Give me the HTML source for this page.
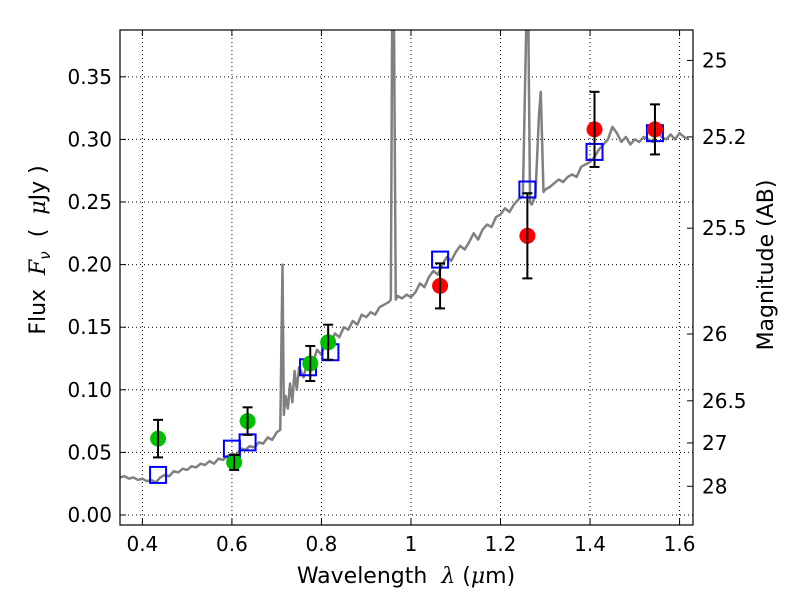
<!DOCTYPE html>
<html><head><meta charset="utf-8"><style>
body{margin:0;background:#fff;}
svg{display:block;font-family:"DejaVu Sans","Liberation Sans",sans-serif;}
text{white-space:pre;}
</style></head><body>
<svg id="chart" width="800" height="600" xmlns="http://www.w3.org/2000/svg"></svg>
<script>
const specX=[0.35,0.36,0.37,0.38,0.39,0.40,0.41,0.42,0.43,0.44,0.45,0.46,0.47,0.48,0.49,0.50,0.51,0.52,0.53,0.54,0.55,0.56,0.57,0.58,0.59,0.60,0.61,0.62,0.63,0.64,0.65,0.66,0.67,0.68,0.69,0.70,0.708,0.713,0.716,0.72,0.725,0.73,0.735,0.74,0.745,0.75,0.76,0.77,0.78,0.79,0.80,0.81,0.82,0.83,0.84,0.85,0.86,0.87,0.88,0.89,0.90,0.91,0.92,0.93,0.94,0.95,0.955,0.958,0.962,0.966,0.97,0.98,0.99,1.00,1.01,1.02,1.03,1.04,1.05,1.06,1.07,1.08,1.09,1.10,1.11,1.12,1.13,1.14,1.15,1.16,1.17,1.18,1.19,1.20,1.21,1.22,1.23,1.24,1.25,1.258,1.262,1.266,1.27,1.278,1.286,1.29,1.296,1.30,1.31,1.32,1.33,1.34,1.35,1.36,1.37,1.38,1.39,1.40,1.41,1.42,1.43,1.44,1.45,1.46,1.47,1.48,1.49,1.50,1.51,1.52,1.53,1.54,1.55,1.56,1.57,1.58,1.59,1.60,1.61,1.62,1.63];
const specY=[0.030,0.031,0.029,0.030,0.028,0.029,0.027,0.028,0.026,0.030,0.032,0.031,0.035,0.034,0.037,0.036,0.039,0.038,0.041,0.040,0.043,0.041,0.045,0.044,0.047,0.049,0.048,0.053,0.052,0.055,0.054,0.058,0.057,0.062,0.060,0.066,0.068,0.200,0.080,0.095,0.085,0.105,0.090,0.115,0.100,0.118,0.110,0.125,0.120,0.132,0.128,0.140,0.136,0.145,0.142,0.150,0.148,0.155,0.152,0.160,0.158,0.162,0.160,0.166,0.168,0.170,0.172,0.40,0.40,0.172,0.175,0.173,0.176,0.174,0.178,0.185,0.182,0.190,0.195,0.192,0.200,0.206,0.203,0.210,0.215,0.212,0.218,0.225,0.220,0.228,0.232,0.230,0.238,0.240,0.245,0.242,0.248,0.252,0.255,0.40,0.40,0.25,0.248,0.255,0.32,0.338,0.258,0.260,0.262,0.265,0.268,0.266,0.270,0.272,0.270,0.278,0.280,0.282,0.286,0.292,0.296,0.300,0.310,0.305,0.298,0.302,0.296,0.300,0.298,0.302,0.300,0.298,0.306,0.302,0.300,0.304,0.300,0.305,0.302,0.300];
const greenX=[0.435,0.605,0.635,0.775,0.815];
const greenY=[0.061,0.042,0.075,0.121,0.138];
const greenErr=[0.015,0.006,0.011,0.014,0.014];
const squareX=[0.435,0.600,0.635,0.770,0.820,1.065,1.260,1.410,1.545];
const squareY=[0.032,0.053,0.058,0.118,0.130,0.204,0.260,0.290,0.305];
const redX=[1.065,1.260,1.410,1.545];
const redY=[0.183,0.223,0.308,0.308];
const redErr=[0.018,0.034,0.030,0.020];
const xTicks=[0.4,0.6,0.8,1.0,1.2,1.4,1.6];
const xTickLabels=["0.4","0.6","0.8","1","1.2","1.4","1.6"];
const yTicks=[0,0.05,0.10,0.15,0.20,0.25,0.30,0.35];
const yTickLabels=["0.00","0.05","0.10","0.15","0.20","0.25","0.30","0.35"];
const magTicks=[25,25.2,25.5,26,26.5,27,28];
const magTickLabels=["25","25.2","25.5","26","26.5","27","28"];

const L=120,R=693,T=30,B=525,X0=0.35,X1=1.63,Y0=-0.008,Y1=0.3874;
const sx=v=>L+(v-X0)/(X1-X0)*(R-L);
const sy=v=>B-(v-Y0)/(Y1-Y0)*(B-T);
const svg=document.getElementById('chart');
const NS='http://www.w3.org/2000/svg';
function mk(tag,attrs,parent){const e=document.createElementNS(NS,tag);for(const k in attrs)e.setAttribute(k,attrs[k]);(parent||svg).appendChild(e);return e;}

const defs=mk('defs',{});
const cp=mk('clipPath',{id:'clip'},defs);mk('rect',{x:L,y:T,width:R-L,height:B-T},cp);

const grid=mk('g',{});


xTicks.forEach(v=>{mk('line',{x1:sx(v),x2:sx(v),y1:T,y2:B,stroke:'#000','stroke-width':1,'stroke-dasharray':'1,3'},grid);});
yTicks.forEach(v=>{mk('line',{x1:L,x2:R,y1:sy(v),y2:sy(v),stroke:'#000','stroke-width':1,'stroke-dasharray':'1,3'},grid);});

const pts=specX.map((x,i)=>sx(x)+','+sy(specY[i])).join(' ');
const spec=mk('polyline',{points:pts,fill:'none',stroke:'#808080','stroke-width':2.5,'clip-path':'url(#clip)','stroke-linejoin':'round'});



function errbar(g,x,y,e){
  mk('line',{x1:sx(x),x2:sx(x),y1:sy(y-e),y2:sy(y+e),stroke:'#000','stroke-width':2},g);
  [y-e,y+e].forEach(v=>mk('line',{x1:sx(x)-5,x2:sx(x)+5,y1:sy(v),y2:sy(v),stroke:'#000','stroke-width':2},g));
}
const sq=mk('g',{});


squareX.forEach((x,i)=>{const r=mk('rect',{x:sx(x)-8,y:sy(squareY[i])-8,width:16,height:16,fill:'none',stroke:'#0000ff','stroke-width':2},sq);

});
const gg=mk('g',{});


greenX.forEach((x,i)=>{mk('circle',{cx:sx(x),cy:sy(greenY[i]),r:8,fill:'#00c000'},gg);errbar(gg,x,greenY[i],greenErr[i]);});
const rg=mk('g',{});


redX.forEach((x,i)=>{mk('circle',{cx:sx(x),cy:sy(redY[i]),r:8,fill:'#ff0000'},rg);errbar(rg,x,redY[i],redErr[i]);});

const fr=mk('rect',{x:L,y:T,width:R-L,height:B-T,fill:'none',stroke:'#000','stroke-width':1.2});



const ax=mk('g',{'font-size':20,fill:'#000'});


xTicks.forEach((v,i)=>{mk('line',{x1:sx(v),x2:sx(v),y1:B,y2:B-6,stroke:'#000'},ax);mk('line',{x1:sx(v),x2:sx(v),y1:T,y2:T+6,stroke:'#000'},ax);
const t=mk('text',{x:sx(v),y:B+26,'text-anchor':'middle'},ax);t.textContent=xTickLabels[i];});
yTicks.forEach((v,i)=>{mk('line',{x1:L,x2:L+6,y1:sy(v),y2:sy(v),stroke:'#000'},ax);
const t=mk('text',{x:L-8,y:sy(v)+7,'text-anchor':'end'},ax);t.textContent=yTickLabels[i];});
magTicks.forEach((m,i)=>{const f=Math.pow(10,(23.9-m)/2.5);const y=sy(f);
mk('line',{x1:R,x2:R-6,y1:y,y2:y,stroke:'#000'},ax);
const t=mk('text',{x:R+9,y:y+7,'text-anchor':'start'},ax);t.textContent=magTickLabels[i];});

const xl=mk('text',{x:406,y:583,'text-anchor':'middle','font-size':22});


xl.innerHTML='Wavelength  <tspan font-style="italic" font-family="DejaVu Serif,serif">λ</tspan> (<tspan font-style="italic" font-family="DejaVu Serif,serif">μ</tspan>m)';
const yl=mk('text',{x:0,y:0,'text-anchor':'middle','font-size':22,transform:'translate(45,250) rotate(-90)'});


yl.innerHTML='Flux  <tspan font-style="italic" font-family="DejaVu Serif,serif">F</tspan><tspan font-style="italic" font-size="15" dy="5">ν</tspan><tspan dy="-5">  (  </tspan><tspan font-style="italic" font-family="DejaVu Serif,serif">μ</tspan>Jy )';
const rl=mk('text',{x:0,y:0,'text-anchor':'middle','font-size':22,transform:'translate(773,265) rotate(-90)'});


rl.textContent='Magnitude (AB)';
</script>
</body></html>
